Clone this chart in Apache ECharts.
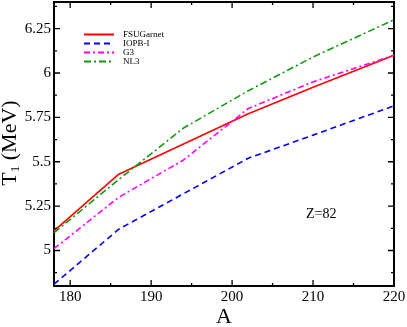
<!DOCTYPE html>
<html><head><meta charset="utf-8">
<script src="https://cdn.jsdelivr.net/npm/echarts@6/dist/echarts.min.js"></script>
<style>html,body{margin:0;padding:0;background:#fff}#c{width:407px;height:327px}</style>
</head><body><div id="c"></div>
<script>
const massA = [178, 186, 194, 202, 210, 220];
const fsuGarnet = [5.11, 5.43, 5.60, 5.77, 5.92, 6.10];
const iopb1 = [4.81, 5.12, 5.32, 5.52, 5.65, 5.815];
const g3 = [5.01, 5.30, 5.51, 5.80, 5.95, 6.10];
const nl3 = [5.10, 5.40, 5.69, 5.90, 6.09, 6.30];
const seriesNames = ['FSUGarnet', 'IOPB-I', 'G3', 'NL3'];
// axis ranges and ticks
const xRange = [178, 220];
const yRange = [4.8, 6.4];
const xMajor = [180, 190, 200, 210, 220];
const xMinor = [185, 195, 205, 215];
const yMajor = [5, 5.25, 5.5, 5.75, 6, 6.25];
const yMinor = [4.875, 5.125, 5.375, 5.625, 5.875, 6.125, 6.375];

const FONT = '"Liberation Serif", "DejaVu Serif", serif';
const pair = ys => massA.map((a, i) => [a, ys[i]]);

// plot-area pixels (main grid)
const W = 407, H = 327, L = 54, R = 394, T = 2, B = 286;
const MAJ = 6, MIN = 3;
const px = v => L + (v - xRange[0]) / (xRange[1] - xRange[0]) * (R - L);
const py = v => B - (v - yRange[0]) / (yRange[1] - yRange[0]) * (B - T);
// tick lengths converted into data units
const dxPerPx = (xRange[1] - xRange[0]) / (R - L);
const dyPerPx = (yRange[1] - yRange[0]) / (B - T);

const grids = [], xAxes = [], yAxes = [];
const labelStyle = (margin) => ({show: true, margin: margin, color: '#000', fontFamily: FONT, fontSize: 15,
  showMinLabel: true, showMaxLabel: true, hideOverlap: false});

// main grid with frame
grids.push({left: L, right: W - R, top: T, bottom: H - B, outerBoundsMode: 'none'});
const frameAx = (pos, mn, mx) => ({
  gridIndex: 0, type: 'value', min: mn, max: mx, position: pos,
  splitLine: {show: false},
  axisLine: {show: true, onZero: false, lineStyle: {color: '#000', width: 2}},
  axisTick: {show: false}, axisLabel: {show: false}
});
xAxes.push(frameAx('bottom', xRange[0], xRange[1]), frameAx('top', xRange[0], xRange[1]));
yAxes.push(frameAx('left', yRange[0], yRange[1]), frameAx('right', yRange[0], yRange[1]));

// label strips aligned with the tick values
(function () {
  let g = grids.length;
  grids.push({left: px(xMajor[0]), right: W - px(xMajor[xMajor.length - 1]), top: B - 1, height: 1, outerBoundsMode: 'none'});
  xAxes.push({gridIndex: g, type: 'value', min: xMajor[0], max: xMajor[xMajor.length - 1], interval: xMajor[1] - xMajor[0],
    position: 'bottom', axisLine: {show: false}, axisTick: {show: false}, splitLine: {show: false}, axisLabel: labelStyle(4)});
  yAxes.push({gridIndex: g, type: 'value', min: 0, max: 1, show: false});
  g = grids.length;
  grids.push({left: L, width: 1, top: py(yMajor[yMajor.length - 1]), bottom: H - py(yMajor[0]), outerBoundsMode: 'none'});
  yAxes.push({gridIndex: g, type: 'value', min: yMajor[0], max: yMajor[yMajor.length - 1], interval: yMajor[1] - yMajor[0],
    position: 'left', axisLine: {show: false}, axisTick: {show: false}, splitLine: {show: false}, axisLabel: labelStyle(3)});
  xAxes.push({gridIndex: g, type: 'value', min: 0, max: 1, show: false});
})();

const mk = (i, ys, color, type) => ({
  name: seriesNames[i], type: 'line', xAxisIndex: 0, yAxisIndex: 0, symbol: 'none', data: pair(ys),
  lineStyle: {color: color, width: 1.6, type: type}, itemStyle: {color: color}, z: 3
});

// tick marks as a broken black line series in data space (gaps between segments)
function tickSeries() {
  const d = [];
  const seg = (a, b) => { d.push(a, b, ['-', '-']); };
  const lx = MAJ * dxPerPx, sx = MIN * dxPerPx, ly = MAJ * dyPerPx, sy = MIN * dyPerPx;
  xMajor.forEach(v => { seg([v, yRange[0]], [v, yRange[0] + ly]); seg([v, yRange[1]], [v, yRange[1] - ly]); });
  xMinor.forEach(v => { seg([v, yRange[0]], [v, yRange[0] + sy]); seg([v, yRange[1]], [v, yRange[1] - sy]); });
  yMajor.forEach(v => { seg([xRange[0], v], [xRange[0] + lx, v]); seg([xRange[1], v], [xRange[1] - lx, v]); });
  yMinor.forEach(v => { seg([xRange[0], v], [xRange[0] + sx, v]); seg([xRange[1], v], [xRange[1] - sx, v]); });
  return {name: 'ticks', type: 'line', xAxisIndex: 0, yAxisIndex: 0, symbol: 'none', silent: true, clip: false,
    connectNulls: false, data: d, lineStyle: {color: '#000', width: 1.3, type: 'solid'}, itemStyle: {color: '#000'}, z: 4,
    tooltip: {show: false}};
}

const chart = echarts.init(document.getElementById('c'));
chart.setOption({
  animation: false,
  grid: grids,
  xAxis: xAxes,
  yAxis: yAxes,
  legend: {
    orient: 'vertical', left: 83, top: 30, padding: 0, itemWidth: 30, itemHeight: 9, itemGap: 0,
    data: seriesNames, itemStyle: {opacity: 0},
    textStyle: {fontFamily: FONT, fontSize: 9, color: '#000', lineHeight: 9, padding: [0, 0, 0, 4]}
  },
  series: [
    mk(0, fsuGarnet, '#ff0000', 'solid'),
    mk(1, iopb1, '#0000ff', [6, 4]),
    mk(2, g3, '#ff00ff', [6, 3, 2, 3]),
    mk(3, nl3, '#119911', [7, 3, 2, 3]),
    tickSeries()
  ],
  graphic: {elements: [
    {type: 'text', x: 10, y: 143, rotation: Math.PI / 2,
      style: {text: 'T{s|1} (MeV)', fontFamily: FONT, fontSize: 22, fill: '#000', align: 'center', verticalAlign: 'middle',
        rich: {s: {fontFamily: FONT, fontSize: 13, padding: [12, 0, 0, 0]}}}},
    {type: 'text', x: 224, y: 317, style: {text: 'A', fontFamily: FONT, fontSize: 22, fill: '#000', align: 'center', verticalAlign: 'middle'}},
    {type: 'text', x: 306, y: 214, style: {text: 'Z=82', fontFamily: FONT, fontSize: 14, fill: '#000', align: 'left', verticalAlign: 'middle'}}
  ]}
});
</script></body></html>
